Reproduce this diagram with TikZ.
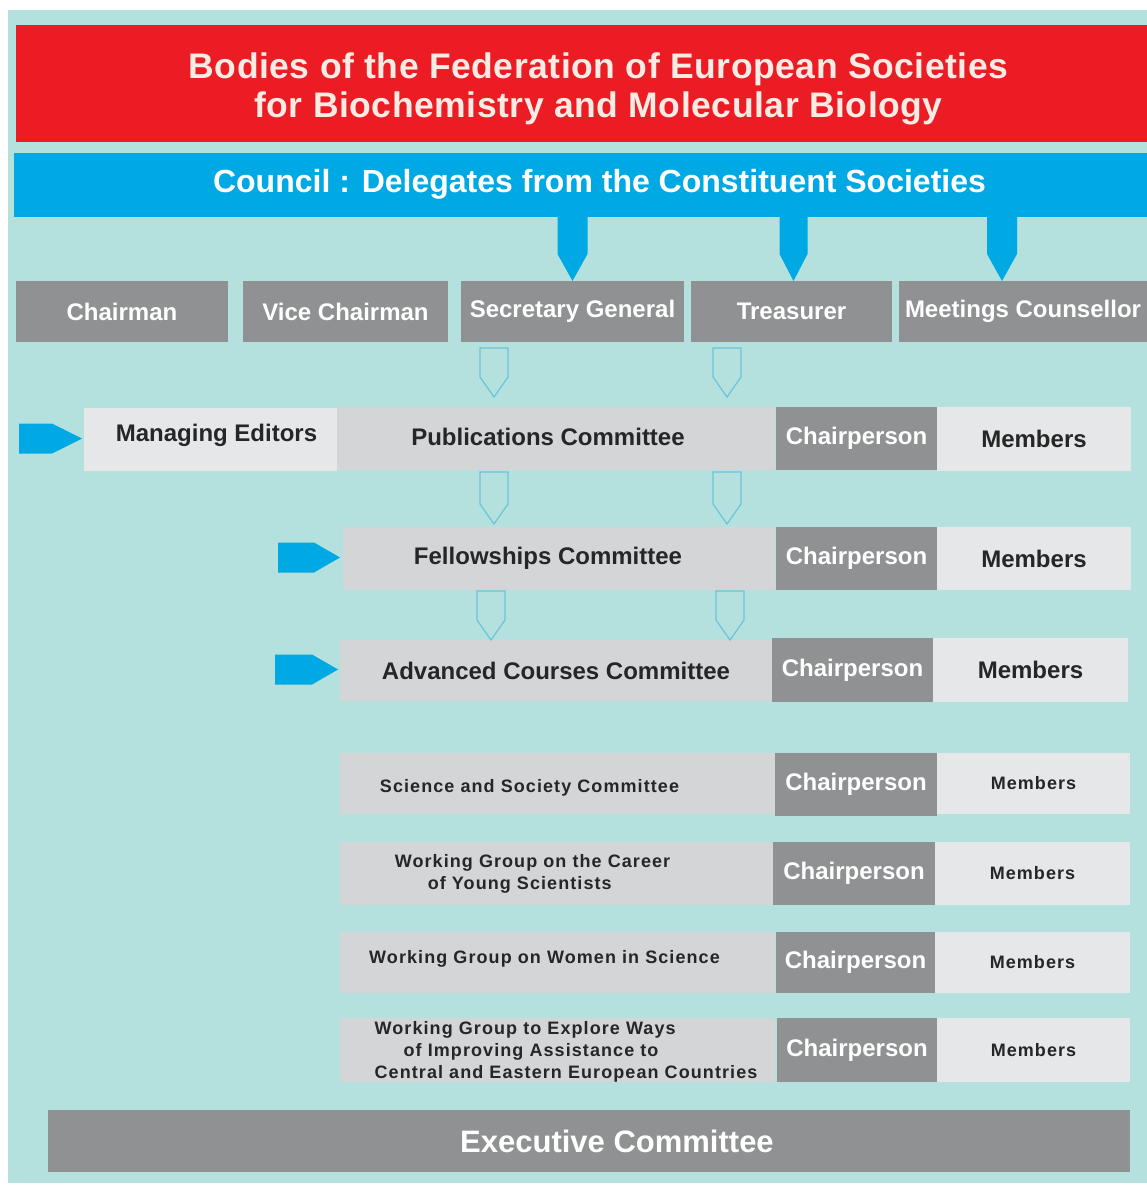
\documentclass[tikz,border=0pt]{standalone}
\usepackage{fontspec}
\setmainfont{Liberation Sans}
\newfontfamily\spacedfont[LetterSpace=6]{Liberation Sans}
\newfontfamily\titlefont[LetterSpace=1.5]{Liberation Sans}
\usetikzlibrary{calc}
\definecolor{bgteal}{RGB}{180,225,221}
\definecolor{fedred}{RGB}{236,28,36}
\definecolor{fedblue}{RGB}{0,168,228}
\definecolor{boxdark}{RGB}{143,145,147}
\definecolor{boxmid}{RGB}{212,213,215}
\definecolor{boxlight}{RGB}{230,231,233}
\definecolor{txtdark}{RGB}{38,38,38}
\definecolor{titlecol}{RGB}{250,236,228}
\definecolor{hollowblue}{RGB}{105,195,220}
% vertical pentagon arrow: style, start, tip, half width, tip length
\newcommand\vpent[5]{\path[#1] ($(#2)+(-#4,0)$) -- ($(#2)+(#4,0)$) -- ($(#3)+(#4,-#5)$) -- (#3) -- ($(#3)+(-#4,-#5)$) -- cycle;}
% horizontal pentagon arrow pointing right
\newcommand\hpent[5]{\path[#1] ($(#2)+(0,-#4)$) -- ($(#3)+(-#5,-#4)$) -- (#3) -- ($(#3)+(-#5,#4)$) -- ($(#2)+(0,#4)$) -- cycle;}
\begin{document}
\begin{tikzpicture}[x=1pt,y=-1pt,
  box/.style={rectangle, inner sep=0pt, outer sep=0pt, draw=none, align=center,
    font=\bfseries\fontsize{24}{28}\selectfont},
  dk/.style={box, fill=boxdark, text=white},
  md/.style={box, fill=boxmid, text=txtdark},
  lt/.style={box, fill=boxlight, text=txtdark},
  txt/.style={inner sep=0pt, text=txtdark, font=\bfseries\fontsize{24}{28}\selectfont},
  sm/.style={inner sep=0pt, text=txtdark, font=\spacedfont\bfseries\fontsize{18}{22}\selectfont},
  titletxt/.style={inner sep=0pt, align=center, text=titlecol, font=\titlefont\bfseries\fontsize{35.5}{39}\selectfont},
  counciltxt/.style={inner sep=0pt, text=white, font=\bfseries\fontsize{32}{36}\selectfont},
  exectxt/.style={inner sep=0pt, text=white, font=\bfseries\fontsize{31}{34}\selectfont},
  bluefill/.style={fill=fedblue, draw=none},
  hollow/.style={draw=hollowblue, line width=1.2pt, fill=none, line join=miter},
]
\useasboundingbox (0,0) rectangle (1147,1185);
\fill[white] (0,0) rectangle (1147,1185);
\fill[bgteal] (8,10) rectangle (1147,1183);

% header
\node[box, fill=fedred, minimum width=1131pt, minimum height=117pt] (title) at (581.5,83.5) {};
\node[titletxt] (titletext) at ($(title.center)+(17,5)$) {Bodies of the Federation of European Societies\\for Biochemistry and Molecular Biology};
\node[box, fill=fedblue, minimum width=1133pt, minimum height=64pt] (council) at (580.5,185) {};
\node[counciltxt] (counciltext) at ($(council.center)+(19,-1)$) {Council : Delegates from the Constituent Societies};

% officers
\node[dk, minimum width=212pt, minimum height=61pt] (chair) at (122,311.5) {Chairman};
\node[dk, minimum width=205pt, minimum height=61pt] (vice) at (345.5,311.5) {Vice Chairman};
\node[dk, minimum width=223pt, minimum height=61pt] (sg) at (572.5,311.5) {Secretary General};
\node[dk, minimum width=201pt, minimum height=61pt] (tr) at (791.5,311.5) {Treasurer};
\node[dk, minimum width=248pt, minimum height=61pt] (mc) at (1023,311.5) {Meetings Counsellor};

% publications row
\node[md, minimum width=438pt, minimum height=63pt] (pub) at (556,438.5) {};
\node[txt] (pubtext) at ($(pub.center)+(-8,-2)$) {Publications Committee};
\node[lt, minimum width=253pt, minimum height=63pt] (me) at (210.5,439.5) {};
\node[txt] (metext) at ($(me.center)+(6,-4)$) {Managing Editors};
\node[dk, minimum width=161pt, minimum height=63pt] (ch1) at (856.5,438.5) {Chairperson};
\node[lt, minimum width=194pt, minimum height=64pt] (mb1) at (1034,439) {Members};

% fellowships row
\node[md, minimum width=432pt, minimum height=63pt] (fel) at (559,558.5) {};
\node[txt] (feltext) at ($(fel.center)+(-11,0)$) {Fellowships Committee};
\node[dk, minimum width=161pt, minimum height=63pt] (ch2) at (856.5,558.5) {Chairperson};
\node[lt, minimum width=194pt, minimum height=63pt] (mb2) at (1034,558.5) {Members};

% advanced courses row
\node[md, minimum width=432pt, minimum height=61pt] (adv) at (556,670.5) {};
\node[txt] (advtext) at ($(adv.center)+(0,0)$) {Advanced Courses Committee};
\node[dk, minimum width=161pt, minimum height=64pt] (ch3) at (852.5,670) {Chairperson};
\node[lt, minimum width=195pt, minimum height=64pt] (mb3) at (1030.5,670) {Members};

% lower committees
\node[md, minimum width=435pt, minimum height=61pt] (sci) at (557.5,783.5) {};
\node[sm] (scitext) at ($(sci.center)+(-28,4)$) {Science and Society Committee};
\node[dk, minimum width=162pt, minimum height=63pt] (ch4) at (856,784.5) {Chairperson};
\node[lt, minimum width=193pt, minimum height=61pt] (mb4) at (1033.5,783.5) {\spacedfont\bfseries\fontsize{18}{22}\selectfont Members};

\node[md, minimum width=435pt, minimum height=63pt] (car) at (557.5,873.5) {};
\node[sm, align=left] (cartext) at ($(car.center)+(-25,0)$) {Working Group on the Career\\\hspace*{33pt}of Young Scientists};
\node[dk, minimum width=162pt, minimum height=63pt] (ch5) at (854,873.5) {Chairperson};
\node[lt, minimum width=195pt, minimum height=63pt] (mb5) at (1032.5,873.5) {\spacedfont\bfseries\fontsize{18}{22}\selectfont Members};

\node[md, minimum width=435pt, minimum height=61pt] (wom) at (557.5,962.5) {};
\node[sm] (womtext) at ($(wom.center)+(-13,-4)$) {Working Group on Women in Science};
\node[dk, minimum width=159pt, minimum height=61pt] (ch6) at (855.5,962.5) {Chairperson};
\node[lt, minimum width=195pt, minimum height=61pt] (mb6) at (1032.5,962.5) {\spacedfont\bfseries\fontsize{18}{22}\selectfont Members};

\node[md, minimum width=435pt, minimum height=64pt] (cee) at (557.5,1050) {};
\node[sm, align=left] (ceetext) at ($(cee.center)+(8.5,2)$) {Working Group to Explore Ways\\\hspace*{29pt}of Improving Assistance to\\Central and Eastern European Countries};
\node[dk, minimum width=160pt, minimum height=64pt] (ch7) at (857,1050) {Chairperson};
\node[lt, minimum width=193pt, minimum height=64pt] (mb7) at (1033.5,1050) {\spacedfont\bfseries\fontsize{18}{22}\selectfont Members};

% executive committee
\node[box, fill=boxdark, minimum width=1082pt, minimum height=62pt] (exec) at (589,1141) {};
\node[exectxt] (exectext) at ($(exec.center)+(28,0)$) {Executive Committee};

% blue arrows from council
\coordinate (b1t) at (sg.north);
\coordinate (b1s) at (sg.north |- council.south);
\vpent{bluefill}{b1s}{b1t}{15}{27}
\coordinate (b2t) at ([xshift=2pt]tr.north);
\coordinate (b2s) at (b2t |- council.south);
\vpent{bluefill}{b2s}{b2t}{14}{27}
\coordinate (b3t) at ([xshift=-21pt]mc.north);
\coordinate (b3s) at (b3t |- council.south);
\vpent{bluefill}{b3s}{b3t}{15}{27}

% hollow arrows
\coordinate (k1) at (494,0);
\coordinate (k2) at (727,0);
\coordinate (k3) at (491,0);
\coordinate (k4) at (730,0);
\coordinate (h1s) at ($(sg.south -| k1)+(0,6)$);
\coordinate (h1t) at ($(pub.north -| k1)+(0,-10)$);
\vpent{hollow}{h1s}{h1t}{14}{20}
\coordinate (h2s) at ($(tr.south -| k2)+(0,6)$);
\coordinate (h2t) at ($(pub.north -| k2)+(0,-10)$);
\vpent{hollow}{h2s}{h2t}{14}{20}
\coordinate (h3s) at ($(pub.south -| k1)+(0,2)$);
\coordinate (h3t) at ($(fel.north -| k1)+(0,-3)$);
\vpent{hollow}{h3s}{h3t}{14}{20}
\coordinate (h4s) at ($(pub.south -| k2)+(0,2)$);
\coordinate (h4t) at ($(fel.north -| k2)+(0,-3)$);
\vpent{hollow}{h4s}{h4t}{14}{20}
\coordinate (h5s) at ($(fel.south -| k3)+(0,1)$);
\coordinate (h5t) at ($(adv.north -| k3)+(0,0)$);
\vpent{hollow}{h5s}{h5t}{14}{20}
\coordinate (h6s) at ($(fel.south -| k4)+(0,1)$);
\coordinate (h6t) at ($(adv.north -| k4)+(0,0)$);
\vpent{hollow}{h6s}{h6t}{14}{20}

% left blue arrows
\coordinate (l1s) at ($(me.west)+(-65,-1)$);
\coordinate (l1t) at ($(me.west)+(-2,-1)$);
\hpent{bluefill}{l1s}{l1t}{15}{30}
\coordinate (l2s) at ($(fel.west)+(-65,-1)$);
\coordinate (l2t) at ($(fel.west)+(-3,-1)$);
\hpent{bluefill}{l2s}{l2t}{15}{26}
\coordinate (l3s) at ($(adv.west)+(-65,-1)$);
\coordinate (l3t) at ($(adv.west)+(-2,-1)$);
\hpent{bluefill}{l3s}{l3t}{15}{26}
\end{tikzpicture}
\end{document}
